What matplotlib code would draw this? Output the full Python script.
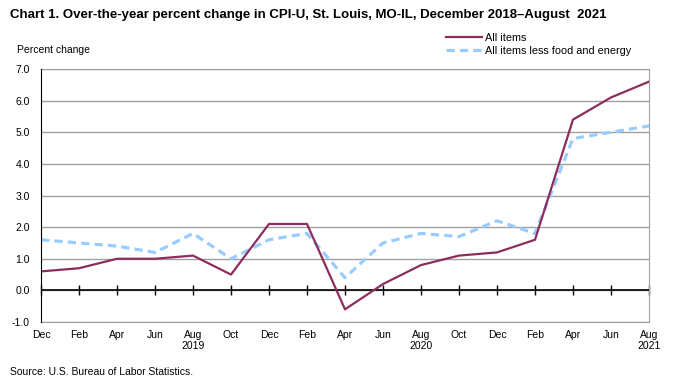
import numpy as np
import matplotlib.pyplot as plt

plt.rcParams['font.family'] = ['Liberation Sans', 'DejaVu Sans']

# bimonthly data, Dec 2018 - Aug 2021
months = ['Dec', 'Feb', 'Apr', 'Jun', 'Aug\n2019', 'Oct', 'Dec', 'Feb', 'Apr', 'Jun',
          'Aug\n2020', 'Oct', 'Dec', 'Feb', 'Apr', 'Jun', 'Aug\n2021']
all_items = [0.6, 0.7, 1.0, 1.0, 1.1, 0.5, 2.1, 2.1, -0.6, 0.2,
             0.8, 1.1, 1.2, 1.6, 5.4, 6.1, 6.6]
core = [1.6, 1.5, 1.4, 1.2, 1.8, 1.0, 1.6, 1.8, 0.4, 1.5,
        1.8, 1.7, 2.2, 1.8, 4.8, 5.0, 5.2]
yticks = np.arange(-1.0, 7.01, 1.0)

fig = plt.figure(figsize=(6.73, 3.85), dpi=100)
ax = fig.add_axes([41/673, 1-322/385, 608/673, 253/385])

x = np.arange(len(months))
ax.plot(x, all_items, color='#8C2D5E', lw=1.6, label='All items', zorder=4)
ax.plot(x, core, color='#99CCFF', lw=2.3, dashes=(2.6, 1.6),
        label='All items less food and energy', zorder=3)

ax.set_xlim(0, len(months)-1)
ax.set_ylim(-1, 7)
ax.set_yticks(yticks)
ax.set_yticklabels(['%.1f' % v for v in yticks], fontsize=7.5)
ax.tick_params(axis='y', length=0, pad=8)
ax.yaxis.grid(True, color='#A0A0A0', lw=1)
ax.set_axisbelow(True)

ax.set_xticks(x)
ax.set_xticklabels(months, fontsize=7.5, linespacing=1.05)
ax.tick_params(axis='x', length=0, pad=6)

for s in ['top', 'right', 'bottom']:
    ax.spines[s].set_color('#A0A0A0')
ax.spines['left'].set_color('black')
ax.spines['left'].set_zorder(5)

# zero line with tick marks
ax.axhline(0, color='black', lw=1.2, zorder=2)
sec = ax.secondary_xaxis(1/8)
sec.set_xticks(x)
sec.set_xticklabels([])
sec.tick_params(axis='x', direction='inout', length=7, width=1, color='black')
sec.spines['bottom'].set_visible(False)

fig.text(10/673, 1-15/385, 'Chart 1. Over-the-year percent change in CPI-U, St. Louis, MO-IL, December 2018\u2013August  2021',
         fontsize=9.5, fontweight='bold', va='center', ha='left')
fig.text(17/673, 1-50/385, 'Percent change', fontsize=7.5, va='center', ha='left')
fig.text(10/673, 1-372/385, 'Source: U.S. Bureau of Labor Statistics.', fontsize=7.5, va='center', ha='left')

leg = fig.legend(loc='upper left', bbox_to_anchor=(446/673, 1-33/385), frameon=False,
                 fontsize=7.8, handlelength=3.3, handletextpad=0.3, labelspacing=0.3,
                 borderpad=0, borderaxespad=0)

fig.savefig('out.png', dpi=100)
